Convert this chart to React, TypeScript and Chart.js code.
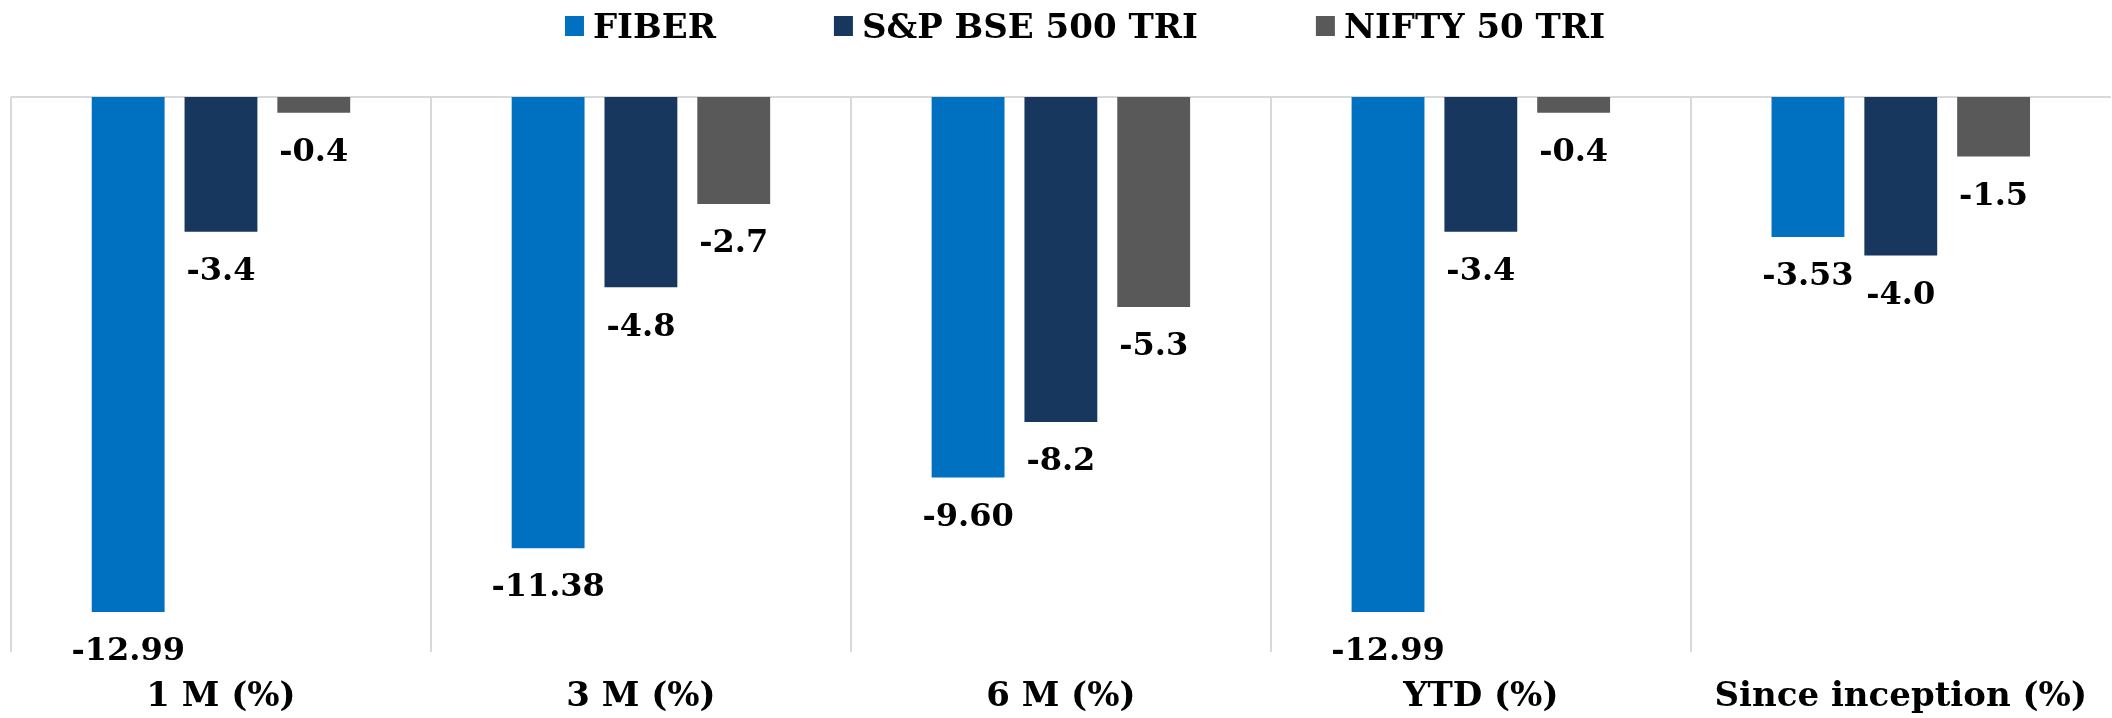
import React, { useEffect, useRef } from "react";
import { Chart, registerables } from "chart.js";

Chart.register(...registerables);

const categories = ["1 M (%)", "3 M (%)", "6 M (%)", "YTD (%)", "Since inception (%)"];
const seriesNames = ["FIBER", "S&P BSE 500 TRI", "NIFTY 50 TRI"];
const fiber = [-12.99, -11.38, -9.6, -12.99, -3.53];
const bse500 = [-3.4, -4.8, -8.2, -3.4, -4.0];
const nifty50 = [-0.4, -2.7, -5.3, -0.4, -1.5];
const seriesDecimals = [2, 1, 1];
const seriesColors = ["#0070C0", "#17375E", "#595959"];
const yMin = -14;
const yMax = 0;

const FONT = '"DejaVu Serif", "Liberation Serif", serif';
const GRID = "#d9d9d9";

const zeroLinePlugin = {
  id: "zeroLine",
  beforeDatasetsDraw(chart: any) {
    const { ctx, chartArea, scales } = chart;
    const y = scales.y.getPixelForValue(0);
    ctx.save();
    ctx.strokeStyle = GRID;
    ctx.lineWidth = 2;
    ctx.beginPath();
    ctx.moveTo(chartArea.left, y);
    ctx.lineTo(chartArea.right, y);
    ctx.stroke();
    ctx.restore();
  },
};

const dataLabelPlugin = {
  id: "dataLabels",
  afterDatasetsDraw(chart: any) {
    const { ctx } = chart;
    ctx.save();
    ctx.font = `bold 32px ${FONT}`;
    ctx.fillStyle = "#000";
    ctx.textAlign = "center";
    ctx.textBaseline = "middle";
    chart.data.datasets.forEach((ds: any, i: number) => {
      const meta = chart.getDatasetMeta(i);
      meta.data.forEach((bar: any, j: number) => {
        const v = ds.data[j] as number;
        ctx.fillText(v.toFixed(seriesDecimals[i]), bar.x, bar.y + 40);
      });
    });
    ctx.restore();
  },
};

const legendPlugin = {
  id: "customLegend",
  afterDraw(chart: any) {
    const { ctx } = chart;
    const boxW = 19;
    const boxH = 20;
    const boxGap = 9;
    const itemGap = 118;
    const cy = 26;
    const center = 1085;
    ctx.save();
    ctx.font = `bold 34px ${FONT}`;
    const widths = seriesNames.map((n) => ctx.measureText(n).width);
    const total =
      widths.reduce((a, b) => a + b, 0) + seriesNames.length * (boxW + boxGap) + (seriesNames.length - 1) * itemGap;
    let x = center - total / 2;
    ctx.textBaseline = "middle";
    ctx.textAlign = "left";
    seriesNames.forEach((n, i) => {
      ctx.fillStyle = seriesColors[i];
      ctx.fillRect(x, cy - boxH / 2, boxW, boxH);
      x += boxW + boxGap;
      ctx.fillStyle = "#000";
      ctx.fillText(n, x, cy + 3);
      x += widths[i] + itemGap;
    });
    ctx.restore();
  },
};

export default function App() {
  const canvasRef = useRef<HTMLCanvasElement | null>(null);

  useEffect(() => {
    document.body.style.margin = "0";
    const canvas = canvasRef.current;
    if (!canvas) return;
    const chart = new Chart(canvas, {
      type: "bar",
      data: {
        labels: categories,
        datasets: [fiber, bse500, nifty50].map((d, i) => ({
          label: seriesNames[i],
          data: d,
          backgroundColor: seriesColors[i],
          borderWidth: 0,
          categoryPercentage: 0.663,
          barPercentage: 0.785,
        })),
      },
      options: {
        animation: false,
        responsive: true,
        maintainAspectRatio: false,
        layout: { padding: { top: 97, left: 11, right: 0, bottom: 0 } },
        plugins: {
          legend: { display: false },
          tooltip: { enabled: false },
        },
        scales: {
          x: {
            afterFit: (scale: any) => {
              scale.height = 66;
            },
            grid: {
              display: true,
              drawTicks: false,
              lineWidth: 2,
              color: (c: any) => (c.type === "tick" ? GRID : "rgba(0,0,0,0)"),
            },
            border: { display: false },
            ticks: {
              color: "#000",
              font: { family: FONT, size: 34, weight: "bold" },
              padding: 25,
              autoSkip: false,
              maxRotation: 0,
            },
          },
          y: {
            display: false,
            min: yMin,
            max: yMax,
          },
        },
      },
      plugins: [zeroLinePlugin, dataLabelPlugin, legendPlugin],
    });
    return () => chart.destroy();
  }, []);

  return (
    <div style={{ width: "2112px", height: "718px", position: "relative", background: "#fff" }}>
      <canvas ref={canvasRef} />
    </div>
  );
}
